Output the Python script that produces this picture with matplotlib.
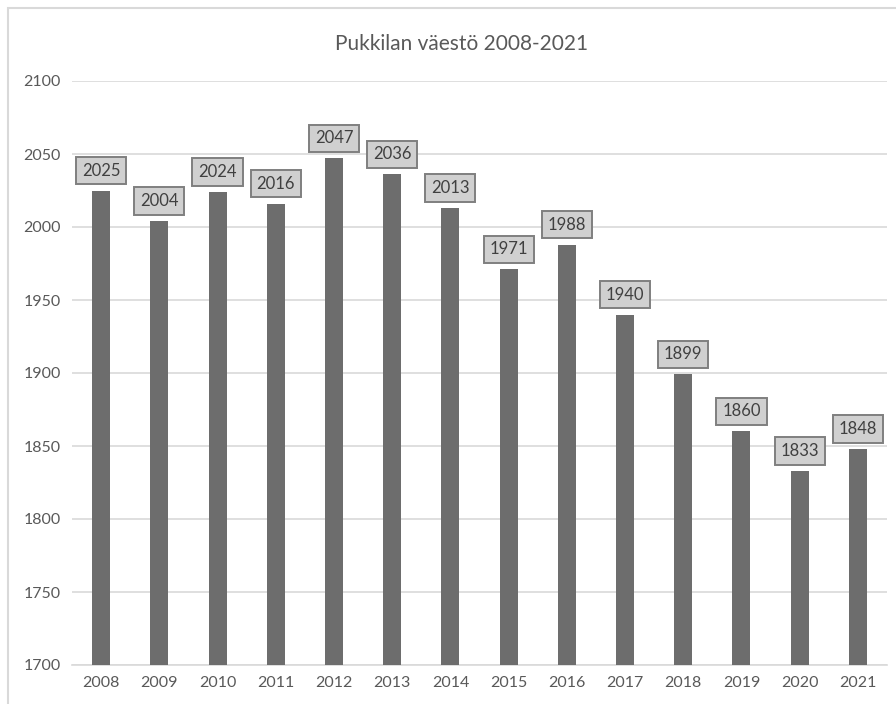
import matplotlib.pyplot as plt
from matplotlib.patches import Rectangle

years = ['2008', '2009', '2010', '2011', '2012', '2013', '2014',
         '2015', '2016', '2017', '2018', '2019', '2020', '2021']
population = [2025, 2004, 2024, 2016, 2047, 2036, 2013,
              1971, 1988, 1940, 1899, 1860, 1833, 1848]
yticks = [1700, 1750, 1800, 1850, 1900, 1950, 2000, 2050, 2100]

plt.rcParams['font.family'] = ['Lato', 'DejaVu Sans']

fig = plt.figure(figsize=(8.96, 7.04), dpi=100, facecolor='w')
# chart border (cropped at right and bottom)
fig.patches.append(Rectangle((8/896, -0.1), 1.2, 1.1 - 8/704, transform=fig.transFigure,
                             fill=False, edgecolor='#d9d9d9', lw=1.5))

ax = fig.add_axes([72/896, 1 - 665/704, (887-72)/896, (665-81)/704])
x = range(len(years))
ax.bar(x, population, width=0.31, color='#6d6d6d', zorder=3)
ax.set_xlim(-0.5, len(years) - 0.5)
ax.set_ylim(1700, 2100)
ax.set_yticks(yticks)
ax.set_xticks(list(x))
ax.set_xticklabels(years)
ax.grid(axis='y', color='#d9d9d9', lw=1.2, zorder=0)
for s in ['top', 'right', 'left']:
    ax.spines[s].set_visible(False)
ax.spines['bottom'].set_color('#d9d9d9')
ax.spines['bottom'].set_linewidth(1.2)
ax.tick_params(length=0, labelsize=11.5, labelcolor='#595959', pad=8)

for i, v in zip(x, population):
    ax.annotate(str(v), (i, v), xytext=(0, 20), textcoords='offset pixels',
                ha='center', va='center', fontsize=12, color='#404040',
                bbox=dict(boxstyle='square,pad=0.35', fc='#d0d0d0', ec='#7f7f7f', lw=1.4),
                zorder=4)

fig.text(462/896, 1 - 44/704, 'Pukkilan väestö 2008-2021', ha='center', va='center',
         fontsize=15, color='#595959')

fig.savefig('out.png', dpi=100)
